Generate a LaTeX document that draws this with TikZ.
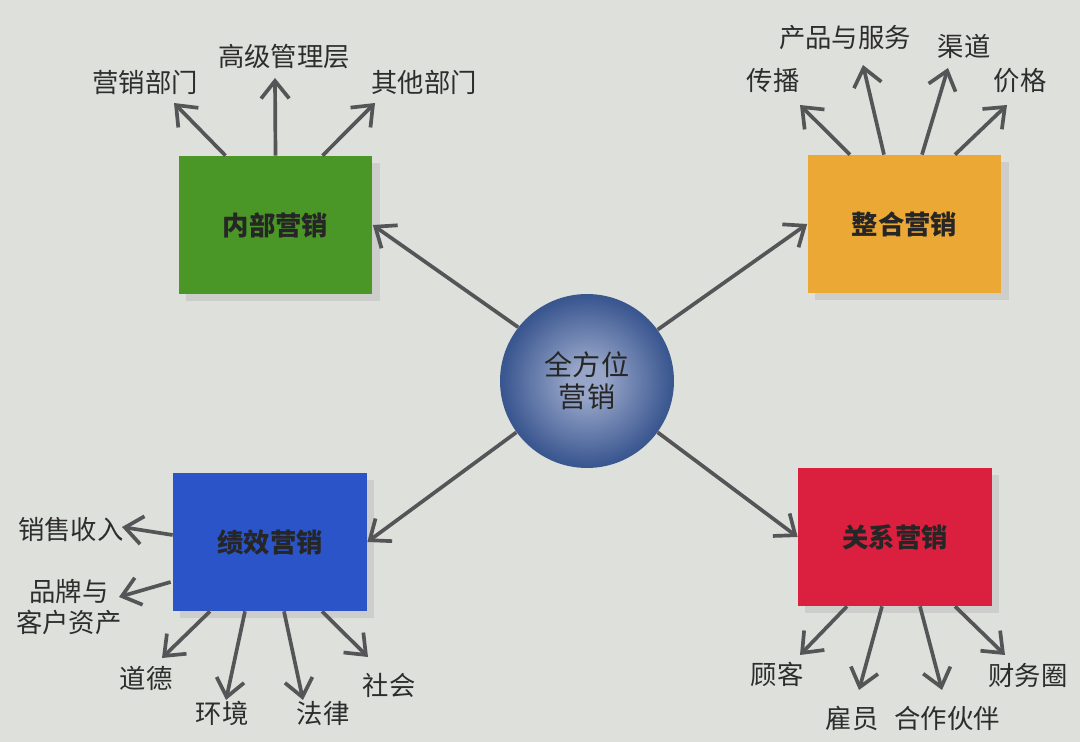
\documentclass[tikz,border=0pt]{standalone}
\usepackage{fontspec}
\setmainfont{Noto Sans CJK SC}
\usetikzlibrary{arrows.meta,shadows,calc}
\definecolor{paper}{RGB}{222,224,220}
\definecolor{ink}{RGB}{45,45,45}
\definecolor{arrowgray}{RGB}{85,85,88}
\definecolor{intgreen}{RGB}{74,150,38}
\definecolor{intorange}{RGB}{236,168,52}
\definecolor{perfblue}{RGB}{42,84,200}
\definecolor{relred}{RGB}{218,32,62}
\definecolor{hubin}{RGB}{150,165,200}
\definecolor{hubmid}{RGB}{60,88,145}
\definecolor{hubout}{RGB}{22,46,98}
\pgfdeclareradialshading{hubshade}{\pgfpoint{0bp}{0bp}}{color(0bp)=(hubin); color(5bp)=(hubin); color(24bp)=(hubmid); color(42bp)=(hubout); color(50bp)=(hubout)}

\begin{document}
\begin{tikzpicture}[x=0.02cm,y=-0.02cm,
  every node/.style={text=ink,font=\fontsize{15}{18}\selectfont},
  box/.style={minimum width=3.88cm,minimum height=2.76cm,font=\fontsize{15}{18}\selectfont\bfseries,
    text=black!85,drop shadow={shadow xshift=4pt,shadow yshift=-4pt,opacity=.18}},
  arr/.style={draw=arrowgray,line width=2.1pt,-{Straight Barb[length=10pt,width=16pt]}}]
  \fill[paper] (0,0) rectangle (1080,742);
  \useasboundingbox (0,0) rectangle (1080,742);

  % hub and the four boxes
  \node[circle,minimum size=3.48cm,shade,shading=hubshade,align=center,text=black!85,
    font=\fontsize{16}{18}\selectfont] (hub) at (587,381) {全方位\\营销};
  \node[box,fill=intgreen] (in) at (275.5,225) {内部营销};
  \node[box,fill=intorange] (ig) at (904.5,224) {整合营销};
  \node[box,fill=perfblue] (pf) at (270,542) {绩效营销};
  \node[box,fill=relred] (rl) at (895,537) {关系营销};

  \draw[arr] (hub.142) -- (in.east);
  \draw[arr] (hub.36) -- (ig.west);
  \draw[arr] (hub.216) -- (pf.east);
  \draw[arr] (hub.324) -- (rl.west);

  % internal
  \node (in1) at (145,82) {营销部门};
  \node (in2) at (284,57) {高级管理层};
  \node (in3) at (424,82) {其他部门};
  \coordinate (t1) at (174,103);
  \coordinate (t2) at (275,78);
  \coordinate (t3) at (375,103);
  \draw[arr] ($(in.north)+(-50,0)$) -- (t1);
  \draw[arr] (in.north) -- (t2);
  \draw[arr] ($(in.north)+(47,0)$) -- (t3);

  % integrated
  \node (ig1) at (773,81) {传播};
  \node (ig2) at (845,38) {产品与服务};
  \node (ig3) at (964,46) {渠道};
  \node (ig4) at (1020,81) {价格};
  \coordinate (u1) at (800,105);
  \coordinate (u2) at (863,65);
  \coordinate (u3) at (948,68);
  \coordinate (u4) at (1007,105);
  \draw[arr] ($(ig.north)+(-54.5,0)$) -- (u1);
  \draw[arr] ($(ig.north)+(-20.5,0)$) -- (u2);
  \draw[arr] ($(ig.north)+(17.5,0)$) -- (u3);
  \draw[arr] ($(ig.north)+(50.5,0)$) -- (u4);

  % performance
  \node (pf1) at (71,529) {销售收入};
  \node[align=center] (pf2) at (69,607) {品牌与\\客户资产};
  \node (pf3) at (146,678) {道德};
  \node (pf4) at (222,713) {环境};
  \node (pf5) at (323,713) {法律};
  \node (pf6) at (389,685) {社会};
  \coordinate (v1) at (122,527);
  \coordinate (v2) at (119,597);
  \coordinate (v3) at (162,658);
  \coordinate (v4) at (226,700);
  \coordinate (v5) at (303,700);
  \coordinate (v6) at (368,657);
  \draw[arr] ($(pf.west)+(0,-7)$) -- (v1);
  \draw[arr] ($(pf.west)+(-2,40)$) -- (v2);
  \draw[arr] ($(pf.south)+(-60,0)$) -- (v3);
  \draw[arr] ($(pf.south)+(-25,0)$) -- (v4);
  \draw[arr] ($(pf.south)+(14,0)$) -- (v5);
  \draw[arr] ($(pf.south)+(52,0)$) -- (v6);

  % relationship
  \node (rl1) at (777,674) {顾客};
  \node (rl2) at (852,718) {雇员};
  \node (rl3) at (947,718) {合作伙伴};
  \node (rl4) at (1028,675) {财务圈};
  \coordinate (w1) at (800,655);
  \coordinate (w2) at (859,690);
  \coordinate (w3) at (942,690);
  \coordinate (w4) at (1005,655);
  \draw[arr] ($(rl.south)+(-48,0)$) -- (w1);
  \draw[arr] ($(rl.south)+(-13,0)$) -- (w2);
  \draw[arr] ($(rl.south)+(25,0)$) -- (w3);
  \draw[arr] ($(rl.south)+(60,0)$) -- (w4);
\end{tikzpicture}
\end{document}
